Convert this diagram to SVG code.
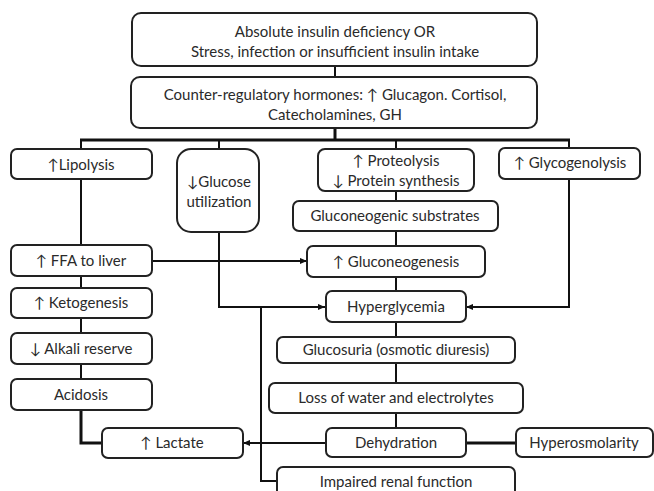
<svg xmlns="http://www.w3.org/2000/svg" width="654" height="491" viewBox="0 0 654 491">
<style>
.b{fill:#fff;stroke:#222;stroke-width:2}
.t{font-family:Lato,"Liberation Sans","DejaVu Sans",sans-serif;font-size:15px;fill:#2a2a2a;text-anchor:middle}
.c{fill:none;stroke:#111;stroke-width:2}
.k{fill:none;stroke:#111;stroke-width:3}
</style>
<defs>
<marker id="a" viewBox="0 0 8 8" refX="8" refY="4" markerWidth="7" markerHeight="7" markerUnits="userSpaceOnUse" orient="auto">
<path d="M0,0.5 L8,4 L0,7.5 z" fill="#111"/>
</marker>
</defs>
<rect width="654" height="491" fill="#fff"/>
<g id="connectors">
<line class="c" x1="335" y1="66" x2="335" y2="77"/>
<line class="k" x1="335" y1="128" x2="335" y2="140"/>
<line class="k" x1="80" y1="140" x2="570" y2="140"/>
<line class="c" x1="81" y1="140" x2="81" y2="149"/>
<line class="c" x1="219" y1="140" x2="219" y2="149"/>
<line class="c" x1="396" y1="140" x2="396" y2="149"/>
<line class="c" x1="569" y1="140" x2="569" y2="148"/>
<line class="c" x1="81" y1="179" x2="81" y2="245"/>
<line class="c" x1="396" y1="191" x2="396" y2="201"/>
<line class="c" x1="396" y1="231" x2="396" y2="246"/>
<line class="c" x1="396" y1="277" x2="396" y2="291"/>
<line class="c" x1="152" y1="261" x2="307" y2="261" marker-end="url(#a)"/>
<polyline class="c" points="219,232 219,307 325,307" marker-end="url(#a)"/>
<polyline class="c" points="569,179 569,307 466,307" marker-end="url(#a)"/>
<polyline class="c" points="261,307 261,481 277,481"/>
<line class="c" x1="81" y1="276" x2="81" y2="288"/>
<line class="c" x1="81" y1="318" x2="81" y2="333"/>
<line class="c" x1="81" y1="364" x2="81" y2="379"/>
<polyline class="k" points="81,410 81,443 102,443"/>
<line class="c" x1="396" y1="322" x2="396" y2="337"/>
<line class="c" x1="396" y1="363" x2="396" y2="383"/>
<line class="c" x1="396" y1="413" x2="396" y2="428"/>
<line class="c" x1="326" y1="443" x2="243" y2="443" marker-end="url(#a)"/>
<line class="k" x1="466" y1="443" x2="516" y2="443"/>
</g>
<g id="n-top"><rect class="b" x="132" y="13" width="405" height="53" rx="9"/>
<text class="t" x="335" y="37">Absolute insulin deficiency OR</text>
<text class="t" x="335" y="57">Stress, infection or insufficient insulin intake</text></g>
<g id="n-hormones"><rect class="b" x="131" y="77" width="406" height="51" rx="9"/>
<text class="t" x="335" y="100">Counter-regulatory hormones: ↑ Glucagon. Cortisol,</text>
<text class="t" x="335" y="120">Catecholamines, GH</text></g>
<g id="n-lipolysis"><rect class="b" x="11" y="149" width="141" height="30" rx="6"/>
<text class="t" x="81" y="170">↑Lipolysis</text></g>
<g id="n-glucose"><rect class="b" x="177" y="149" width="82" height="83" rx="14"/>
<text class="t" x="219" y="187">↓Glucose</text>
<text class="t" x="219" y="207">utilization</text></g>
<g id="n-proteolysis"><rect class="b" x="318" y="149" width="156" height="42" rx="7"/>
<text class="t" x="396" y="166">↑ Proteolysis</text>
<text class="t" x="396" y="186">↓ Protein synthesis</text></g>
<g id="n-glycogenolysis"><rect class="b" x="499" y="148" width="141" height="31" rx="6"/>
<text class="t" x="570" y="168">↑ Glycogenolysis</text></g>
<g id="n-substrates"><rect class="b" x="293" y="201" width="205" height="30" rx="6"/>
<text class="t" x="395" y="221">Gluconeogenic substrates</text></g>
<g id="n-gluconeogenesis"><rect class="b" x="307" y="246" width="178" height="31" rx="6"/>
<text class="t" x="396" y="267">↑ Gluconeogenesis</text></g>
<g id="n-ffa"><rect class="b" x="11" y="245" width="141" height="31" rx="6"/>
<text class="t" x="81" y="266">↑ FFA to liver</text></g>
<g id="n-hyperglycemia"><rect class="b" x="326" y="291" width="140" height="31" rx="6"/>
<text class="t" x="396" y="312">Hyperglycemia</text></g>
<g id="n-ketogenesis"><rect class="b" x="11" y="288" width="141" height="30" rx="6"/>
<text class="t" x="81" y="308">↑ Ketogenesis</text></g>
<g id="n-alkali"><rect class="b" x="11" y="333" width="141" height="31" rx="6"/>
<text class="t" x="81" y="354">↓ Alkali reserve</text></g>
<g id="n-acidosis"><rect class="b" x="11" y="379" width="141" height="31" rx="6"/>
<text class="t" x="81" y="400">Acidosis</text></g>
<g id="n-lactate"><rect class="b" x="102" y="428" width="141" height="30" rx="6"/>
<text class="t" x="172" y="448">↑ Lactate</text></g>
<g id="n-glucosuria"><rect class="b" x="277" y="337" width="238" height="26" rx="6"/>
<text class="t" x="396" y="355">Glucosuria (osmotic diuresis)</text></g>
<g id="n-loss"><rect class="b" x="269" y="383" width="254" height="30" rx="6"/>
<text class="t" x="396" y="403">Loss of water and electrolytes</text></g>
<g id="n-dehydration"><rect class="b" x="326" y="428" width="140" height="29" rx="6"/>
<text class="t" x="396" y="448">Dehydration</text></g>
<g id="n-hyperosmolarity"><rect class="b" x="516" y="428" width="137" height="29" rx="6"/>
<text class="t" x="584" y="448">Hyperosmolarity</text></g>
<g id="n-renal"><rect class="b" x="277" y="467" width="238" height="32" rx="6"/>
<text class="t" x="396" y="487">Impaired renal function</text></g>
</svg>
